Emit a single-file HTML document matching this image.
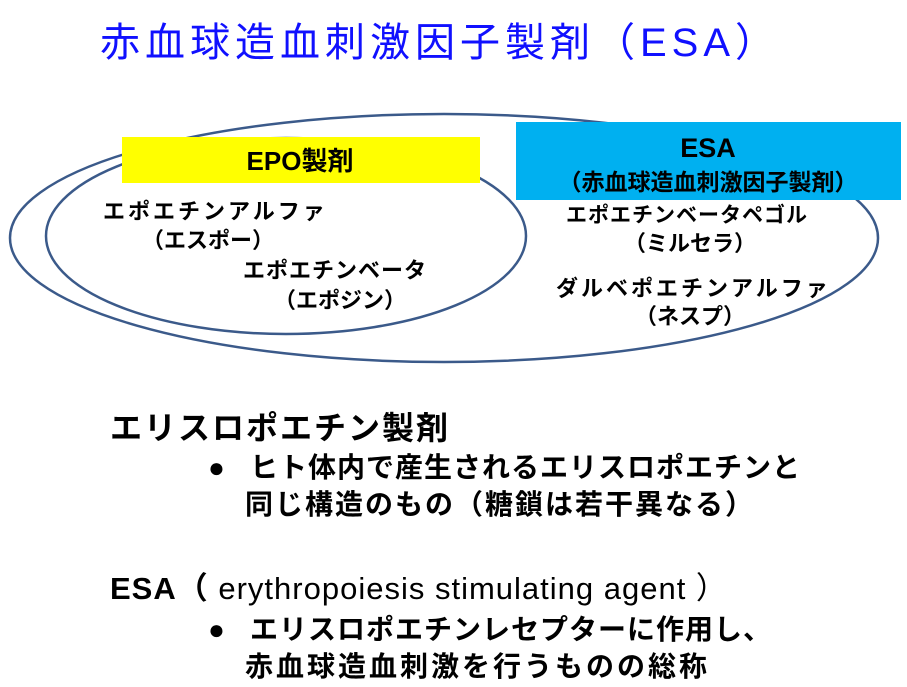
<!DOCTYPE html>
<html><head><meta charset="utf-8">
<style>
body{margin:0;width:907px;height:687px;background:#fff;position:relative;overflow:hidden;font-family:"Liberation Sans","Noto Sans CJK JP",sans-serif;}
.t{position:absolute;white-space:nowrap;line-height:1;}
.b{font-weight:bold;}
.c{transform:translateX(-50%);}
.d{font-size:21px;font-weight:bold;color:#000;}
.m{font-size:28px;font-weight:bold;color:#000;}
</style></head><body>
<div class="t" style="left:100px;top:23px;font-size:40px;color:#1010ff;letter-spacing:5px;">赤血球造血刺激因子製剤（ESA）</div>

<svg style="position:absolute;left:0;top:0" width="907" height="687">
<ellipse cx="444" cy="238" rx="434" ry="124" fill="none" stroke="#3b5a8a" stroke-width="2.5"/>
<ellipse cx="286" cy="236" rx="240" ry="98" fill="none" stroke="#3b5a8a" stroke-width="2.5"/>
<rect x="122" y="137" width="358" height="46" fill="#ffff00"/>
<rect x="516" y="122" width="385" height="78" fill="#00b0f0"/>
</svg>

<div class="t b c" style="left:300px;top:148px;font-size:26px;">EPO製剤</div>
<div class="t b c" style="left:708px;top:135px;font-size:27px;">ESA</div>
<div class="t b c" style="left:708px;top:171px;font-size:23px;">（赤血球造血刺激因子製剤）</div>

<div class="t d" style="left:103px;top:201px;letter-spacing:3px;font-size:22px;">エポエチンアルファ</div>
<div class="t d c" style="left:208px;top:230px;font-size:22px;">（エスポー）</div>
<div class="t d" style="left:243px;top:260px;font-size:22px;letter-spacing:1px;">エポエチンベータ</div>
<div class="t d c" style="left:340px;top:290px;font-size:22px;">（エポジン）</div>
<div class="t d" style="left:566px;top:205px;font-size:21px;letter-spacing:1px;">エポエチンベータペゴル</div>
<div class="t d c" style="left:690px;top:233px;font-size:22px;">（ミルセラ）</div>
<div class="t d" style="left:556px;top:278px;letter-spacing:3px;font-size:22px;">ダルベポエチンアルファ</div>
<div class="t d c" style="left:690px;top:306px;font-size:22px;">（ネスプ）</div>

<div class="t" style="left:110px;top:412px;font-size:32px;font-weight:bold;letter-spacing:2px;">エリスロポエチン製剤</div>
<div class="t m" style="left:208px;top:454px;">●</div>
<div class="t m" style="left:250px;top:454px;letter-spacing:1px;">ヒト体内で産生されるエリスロポエチンと</div>
<div class="t m" style="left:245px;top:491px;letter-spacing:2px;">同じ構造のもの（糖鎖は若干異なる）</div>

<div class="t" style="left:110px;top:573px;font-size:31px;letter-spacing:1px;"><b>ESA（</b> erythropoiesis stimulating agent ）</div>
<div class="t m" style="left:208px;top:616px;">●</div>
<div class="t m" style="left:250px;top:616px;letter-spacing:1px;">エリスロポエチンレセプターに作用し、</div>
<div class="t m" style="left:245px;top:653px;letter-spacing:3px;">赤血球造血刺激を行うものの総称</div>
</body></html>
